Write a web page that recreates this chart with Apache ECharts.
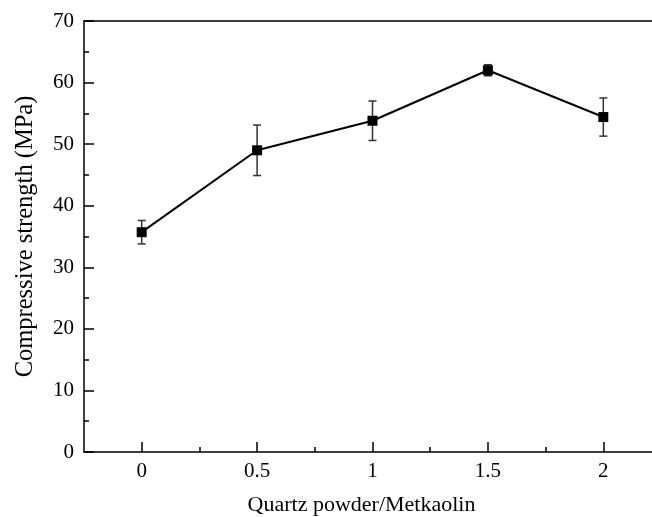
<!DOCTYPE html>
<html>
<head>
<meta charset="utf-8">
<script src="https://cdn.jsdelivr.net/npm/echarts@6/dist/echarts.min.js"></script>
<style>
  html, body { margin: 0; padding: 0; background: #fff; }
  #chart { width: 652px; height: 517px; }
</style>
</head>
<body>
<div id="chart"></div>
<script>
const ratio = [0, 0.5, 1, 1.5, 2];
const strength = [35.7, 49.0, 53.8, 62.0, 54.4];
const errors = [1.9, 4.1, 3.2, 0.9, 3.1];
const xMajorTicks = [0, 0.5, 1, 1.5, 2];
const xMinorTicks = [0.25, 0.75, 1.25, 1.75];

const font = 'Liberation Serif, Times New Roman, serif';
const chart = echarts.init(document.getElementById('chart'));

const pointData = ratio.map((x, i) => [x, strength[i]]);
const errData = ratio.map((x, i) => [x, strength[i] - errors[i], strength[i] + errors[i]]);

chart.setOption({
  animation: false,
  grid: { left: 84, top: 21, width: 577, bottom: 65, outerBoundsMode: 'none', containLabel: false },
  xAxis: [
    {
      type: 'value',
      min: -0.25,
      max: 2.25,
      name: 'Quartz powder/Metkaolin',
      nameLocation: 'middle',
      nameGap: 42,
      nameTextStyle: { fontFamily: font, fontSize: 22, color: '#000', padding: [0, 22, 0, 0] },
      axisLine: { show: true, onZero: false, lineStyle: { color: '#000', width: 1.5 } },
      axisTick: { show: true, inside: true, length: 10, customValues: xMajorTicks, lineStyle: { color: '#000', width: 1.5 } },
      axisLabel: { customValues: xMajorTicks, fontFamily: font, fontSize: 21, color: '#000', margin: 9 },
      splitLine: { show: false }
    },
    {
      type: 'value',
      min: -0.25,
      max: 2.25,
      position: 'bottom',
      axisLine: { show: false, onZero: false },
      axisTick: { show: true, inside: true, length: 5, customValues: xMinorTicks, lineStyle: { color: '#000', width: 1.5 } },
      axisLabel: { show: false },
      splitLine: { show: false }
    },
    {
      type: 'value',
      min: -0.25,
      max: 2.25,
      position: 'top',
      axisLine: { show: true, onZero: false, lineStyle: { color: '#000', width: 1.5 } },
      axisTick: { show: false },
      axisLabel: { show: false },
      splitLine: { show: false }
    }
  ],
  yAxis: {
    type: 'value',
    min: 0,
    max: 70,
    interval: 10,
    name: 'Compressive strength (MPa)',
    nameLocation: 'middle',
    nameGap: 46,
    nameTextStyle: { fontFamily: font, fontSize: 24.5, color: '#000' },
    axisLine: { show: true, onZero: false, lineStyle: { color: '#000', width: 1.5 } },
    axisTick: { show: true, inside: true, length: 10, lineStyle: { color: '#000', width: 1.5 } },
    minorTick: { show: true, splitNumber: 2, length: 5, lineStyle: { color: '#000', width: 1.5 } },
    axisLabel: { fontFamily: font, fontSize: 21, color: '#000', margin: 10 },
    splitLine: { show: false }
  },
  series: [
    {
      type: 'custom',
      xAxisIndex: 0,
      z: 1,
      renderItem: function (params, api) {
        const top = api.coord([api.value(0), api.value(2)]);
        const bot = api.coord([api.value(0), api.value(1)]);
        const hw = 4;
        const style = { stroke: '#333', lineWidth: 1.5 };
        return {
          type: 'group',
          children: [
            { type: 'line', shape: { x1: top[0], y1: top[1], x2: bot[0], y2: bot[1] }, style: style },
            { type: 'line', shape: { x1: top[0] - hw, y1: top[1], x2: top[0] + hw, y2: top[1] }, style: style },
            { type: 'line', shape: { x1: bot[0] - hw, y1: bot[1], x2: bot[0] + hw, y2: bot[1] }, style: style }
          ]
        };
      },
      encode: { x: 0, y: [1, 2] },
      data: errData
    },
    {
      type: 'line',
      xAxisIndex: 0,
      z: 2,
      symbol: 'rect',
      symbolSize: 10,
      itemStyle: { color: '#000' },
      lineStyle: { color: '#000', width: 2 },
      data: pointData
    }
  ]
});
</script>
</body>
</html>
